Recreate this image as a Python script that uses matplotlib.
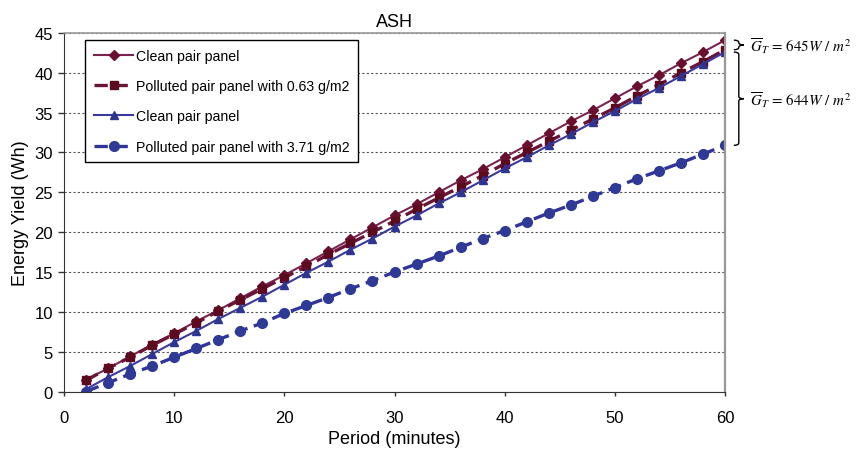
import numpy as np
import matplotlib
matplotlib.use("Agg")
import matplotlib.pyplot as plt
from matplotlib.path import Path
from matplotlib.patches import PathPatch

plt.rcParams['font.family'] = ['Liberation Sans', 'DejaVu Sans']
plt.rcParams['mathtext.fontset'] = 'stix'

# data
period = [2, 4, 6, 8, 10, 12, 14, 16, 18, 20, 22, 24, 26, 28, 30,
          32, 34, 36, 38, 40, 42, 44, 46, 48, 50, 52, 54, 56, 58, 60]
clean_a = [1.5, 2.9, 4.4, 5.9, 7.3, 8.8, 10.2, 11.7, 13.2, 14.6, 16.1, 17.6, 19.1, 20.6, 22.1,
           23.5, 25.0, 26.5, 27.9, 29.4, 30.9, 32.4, 33.9, 35.3, 36.8, 38.3, 39.7, 41.2, 42.6, 44.1]
polluted_063 = [1.4, 2.9, 4.3, 5.8, 7.2, 8.6, 10.1, 11.5, 12.9, 14.3, 15.7, 17.2, 18.6, 20.0, 21.4,
                22.9, 24.3, 25.7, 27.1, 28.6, 30.0, 31.4, 32.8, 34.2, 35.6, 37.1, 38.5, 40.0, 41.4, 42.9]
clean_b = [0.3, 1.8, 3.2, 4.7, 6.2, 7.6, 9.1, 10.5, 11.9, 13.4, 14.9, 16.3, 17.8, 19.2, 20.7,
           22.1, 23.6, 25.0, 26.5, 28.0, 29.4, 30.9, 32.3, 33.8, 35.2, 36.7, 38.1, 39.6, 41.1, 42.6]
polluted_371 = [0.0, 1.1, 2.2, 3.2, 4.3, 5.4, 6.5, 7.6, 8.6, 9.8, 10.8, 11.8, 12.9, 13.9, 15.0,
                16.0, 17.0, 18.1, 19.2, 20.2, 21.3, 22.4, 23.4, 24.5, 25.6, 26.7, 27.7, 28.7, 29.8, 30.9]

labels = ['Clean pair panel', 'Polluted pair panel with 0.63 g/m2',
          'Clean pair panel', 'Polluted pair panel with 3.71 g/m2']
brace_spans = [(42.9, 44.1), (30.9, 42.6)]
brace_texts = [r'$\overline{G}_T\,=\,645W\ /\ m^2$', r'$\overline{G}_T\,=\,644W\ /\ m^2$']


def draw_brace(ax, x, y0, y1, w, r):
    """Right-facing curly brace from y0 to y1 (data coords)."""
    mid = (y0 + y1) / 2
    xm = x + w / 2
    verts = [(x, y1), (xm, y1), (xm, y1 - r), (xm, mid + r),
             (xm, mid), (x + w, mid), (xm, mid), (xm, mid - r),
             (xm, y0 + r), (xm, y0), (x, y0)]
    codes = [Path.MOVETO, Path.CURVE3, Path.CURVE3, Path.LINETO,
             Path.CURVE3, Path.CURVE3, Path.CURVE3, Path.CURVE3,
             Path.LINETO, Path.CURVE3, Path.CURVE3]
    patch = PathPatch(Path(verts, codes), fill=False, lw=1.0, color='black', clip_on=False)
    ax.add_patch(patch)


fig = plt.figure(figsize=(8.57, 4.52), dpi=100)
ax = fig.add_axes([0.0747, 0.1316, 0.7713, 0.7932])

ax.plot(period, clean_a, color='#7a2550', lw=1.5, marker='D', ms=5.5,
        mfc='#6a0f2e', mec='#6a0f2e', label=labels[0])
ax.plot(period, polluted_063, color='#6a1438', lw=2.4, ls=(0, (4, 2)), marker='s', ms=5.5,
        mfc='#5c0a1e', mec='#5c0a1e', label=labels[1])
ax.plot(period, clean_b, color='#3a3a9c', lw=1.5, marker='^', ms=5.5,
        mfc='#2e3590', mec='#2e3590', label=labels[2])
ax.plot(period, polluted_371, color='#31349a', lw=2.4, ls=(0, (4, 2)), marker='o', ms=7,
        mfc='#2e3a96', mec='#2e3a96', label=labels[3])

ax.set_xlim(0, 60)
ax.set_ylim(0, 45)
ax.set_xticks(np.arange(0, 61, 10))
ax.set_yticks(np.arange(0, 46, 5))
ax.tick_params(labelsize=12, direction='out', width=1, color='#333333')
ax.tick_params(axis='x', length=3, pad=10)
ax.tick_params(axis='y', length=4, pad=4)
ax.yaxis.grid(True, ls=(0, (2, 2)), color='#555555', lw=0.8)
ax.set_axisbelow(True)

ax.spines['left'].set_color('#333333')
ax.spines['bottom'].set_color('#333333')
ax.spines['top'].set_color('#999999')
ax.spines['right'].set_color('#999999')
ax.spines['right'].set_linewidth(1.6)
ax.spines['top'].set_linewidth(1.2)

ax.set_title('ASH', fontsize=13, pad=5)
ax.set_xlabel('Period (minutes)', fontsize=13, labelpad=4)
ax.set_ylabel('Energy Yield (Wh)', fontsize=13)

leg = ax.legend(loc='upper left', bbox_to_anchor=(0.032, 0.98), borderaxespad=0,
                fontsize=10.2, frameon=True, fancybox=False, edgecolor='black', framealpha=1,
                handlelength=2.8, labelspacing=1.15, borderpad=0.6, handletextpad=0.2)
leg.get_frame().set_linewidth(1.0)

for (y0, y1), txt in zip(brace_spans, brace_texts):
    r = min(0.3, (y1 - y0) / 4)
    draw_brace(ax, 60.8, y0, y1, 0.9, r)
    ax.text(62.25, (y0 + y1) / 2, txt, fontsize=10.8, va='center', ha='left', clip_on=False)

fig.savefig('out.png', dpi=100)
